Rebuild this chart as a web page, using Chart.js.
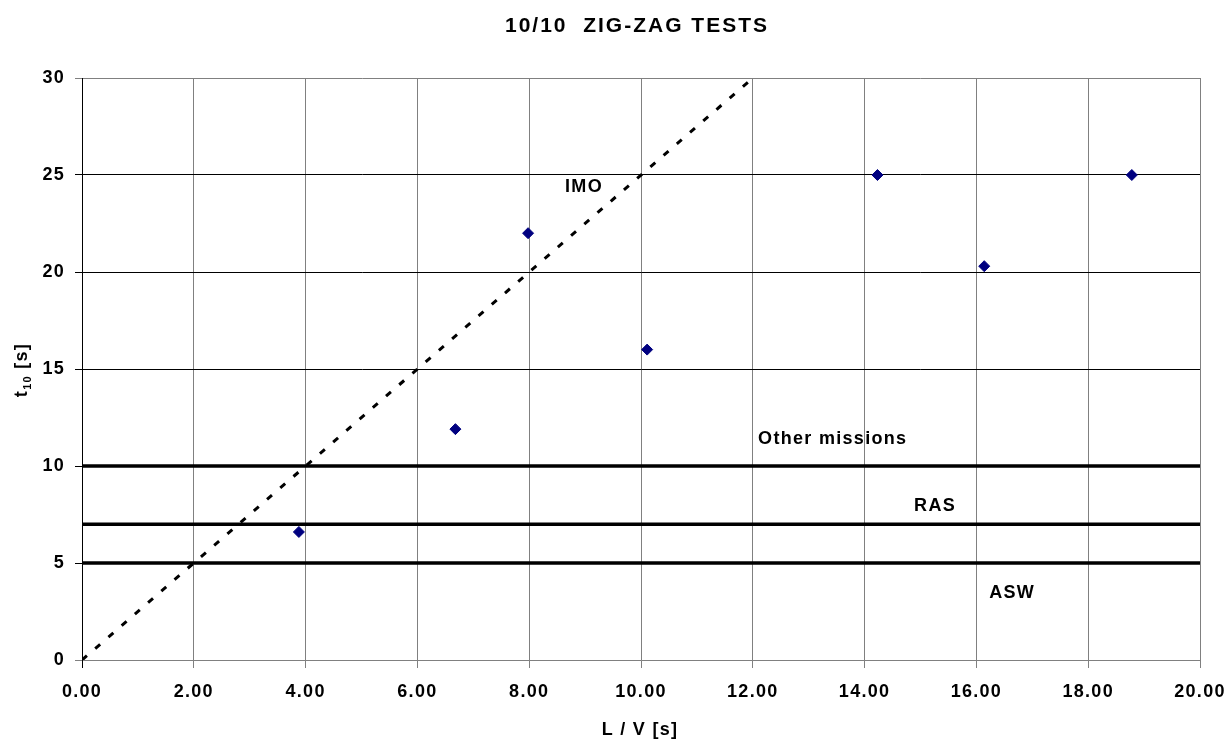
<!DOCTYPE html>
<html>
<head>
<meta charset="utf-8">
<title>10/10 Zig-Zag Tests</title>
<script src="https://cdn.jsdelivr.net/npm/chart.js@4.4.1/dist/chart.umd.min.js"></script>
<style>
  html, body { margin: 0; padding: 0; background: #fff; }
  #wrap { width: 1227px; height: 740px; }
</style>
</head>
<body>
<div id="wrap"><canvas id="zigzagChart" width="1227" height="740"></canvas></div>
<script>
// measured points: L/V [s] against t10 [s]
const lvValues = [3.88, 6.68, 7.98, 10.11, 14.23, 16.14, 18.78];
const t10Values = [6.6, 11.9, 22.0, 16.0, 25.0, 20.3, 25.0];

// IMO criterion line (t10 = 2.5 L/V)
const imoX = [0, 12];
const imoY = [0, 30];

// mission limits
const limitNames = ['ASW', 'RAS', 'Other missions'];
const limitValues = [5, 7, 10];

// axis ranges
const xMin = 0, xMax = 20, xStep = 2;
const yMin = 0, yMax = 30, yStep = 5;

// text labels placed in data units
const textLabels = [
    { text: 'IMO', x: 8.98, y: 24.37 },
    { text: 'Other missions', x: 13.43, y: 11.4 },
    { text: 'RAS', x: 15.26, y: 7.93 },
    { text: 'ASW', x: 16.64, y: 3.45 },
];

const FONT = '"Liberation Sans", Arial, sans-serif';
const SPACING = '1.3px';

Chart.defaults.font.family = FONT;
Chart.defaults.font.weight = 'bold';
Chart.defaults.font.size = 18;
Chart.defaults.color = '#000';

const spacingPlugin = {
    id: 'spacing',
    beforeUpdate(chart) { chart.ctx.letterSpacing = SPACING; },
    beforeDraw(chart) { chart.ctx.letterSpacing = SPACING; },
};

const textPlugin = {
    id: 'texts',
    afterDraw(chart) {
        const ctx = chart.ctx;
        const xs = chart.scales.x, ys = chart.scales.y;
        ctx.save();
        ctx.fillStyle = '#000';
        ctx.textAlign = 'center';
        ctx.textBaseline = 'middle';

        // title
        ctx.letterSpacing = '2px';
        ctx.font = 'bold 21px ' + FONT;
        ctx.fillText('10/10  ZIG-ZAG TESTS', 637, 26);

        // x axis title
        ctx.letterSpacing = SPACING;
        ctx.font = 'bold 18px ' + FONT;
        ctx.fillText('L / V [s]', 640, 730);

        // in-plot labels
        textLabels.forEach(l => {
            ctx.fillText(l.text, xs.getPixelForValue(l.x), ys.getPixelForValue(l.y));
        });

        // y axis title with subscript
        ctx.translate(21, 370);
        ctx.rotate(-Math.PI / 2);
        ctx.textAlign = 'left';
        ctx.textBaseline = 'alphabetic';
        const big = 'bold 18px ' + FONT, small = 'bold 11px ' + FONT;
        ctx.font = big;
        const w1 = ctx.measureText('t').width;
        const w3 = ctx.measureText(' [s]').width;
        ctx.font = small;
        const w2 = ctx.measureText('10').width;
        let x0 = -(w1 + w2 + w3) / 2;
        ctx.font = big;
        ctx.fillText('t', x0, 6);
        ctx.font = small;
        ctx.fillText('10', x0 + w1, 10);
        ctx.font = big;
        ctx.fillText(' [s]', x0 + w1 + w2, 6);
        ctx.restore();
    },
};

const limitDatasets = limitValues.map((v, i) => ({
    type: 'line',
    label: limitNames[i],
    data: [{ x: xMin, y: v }, { x: xMax, y: v }],
    borderColor: '#000',
    borderWidth: 3.5,
    pointRadius: 0,
    fill: false,
}));

new Chart(document.getElementById('zigzagChart'), {
    type: 'scatter',
    data: {
        datasets: [
            {
                label: 't10',
                data: lvValues.map((x, i) => ({ x: x, y: t10Values[i] })),
                pointStyle: 'rectRot',
                pointRadius: 5.5,
                pointBackgroundColor: '#000080',
                pointBorderColor: '#000080',
                pointBorderWidth: 1,
            },
            {
                type: 'line',
                label: 'IMO',
                data: imoX.map((x, i) => ({ x: x, y: imoY[i] })),
                borderColor: '#000',
                borderWidth: 3,
                borderDash: [6.5, 11],
                pointRadius: 0,
                fill: false,
            },
            ...limitDatasets,
        ],
    },
    options: {
        responsive: false,
        animation: false,
        events: [],
        layout: { padding: { top: 78, right: 27, left: 0, bottom: 0 } },
        plugins: {
            legend: { display: false },
            tooltip: { enabled: false },
        },
        scales: {
            x: {
                type: 'linear',
                min: xMin,
                max: xMax,
                afterFit(s) {
                    s.height = 80;
                    s.paddingLeft = 0;
                    s.paddingRight = 0;
                },
                ticks: {
                    stepSize: xStep,
                    padding: 13,
                    maxRotation: 0,
                    callback: v => v.toFixed(2),
                },
                grid: {
                    color: c => (c.tick && c.tick.value === 0) ? '#000' : '#808080',
                    lineWidth: 1,
                    tickLength: 8,
                },
                border: { color: '#808080', width: 1 },
            },
            y: {
                type: 'linear',
                min: yMin,
                max: yMax,
                afterFit(s) {
                    s.width = 82;
                    s.paddingTop = 0;
                    s.paddingBottom = 0;
                },
                ticks: {
                    stepSize: yStep,
                    padding: 10,
                },
                grid: {
                    color: c => (c.tick && (c.tick.value === 0 || c.tick.value === 30)) ? '#808080' : '#000',
                    lineWidth: 1,
                    tickLength: 7,
                },
                border: { color: '#000', width: 1 },
            },
        },
    },
    plugins: [spacingPlugin, textPlugin],
});
</script>
</body>
</html>
